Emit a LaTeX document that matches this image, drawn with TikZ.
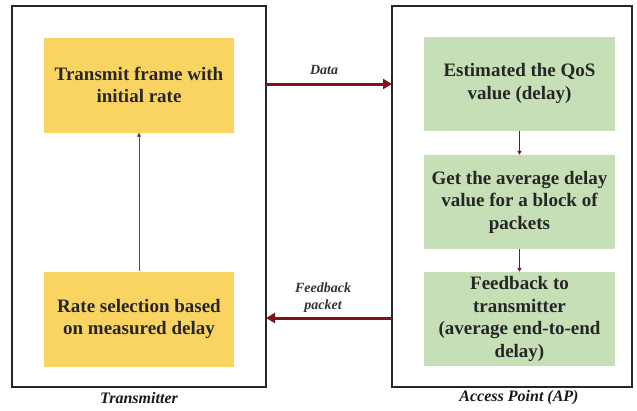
\documentclass[tikz,border=0pt]{standalone}
\usepackage{fontspec}
\setmainfont{Liberation Serif}
\usetikzlibrary{arrows.meta}
\definecolor{boxyellow}{HTML}{F9D463}
\definecolor{boxgreen}{HTML}{C6DFB6}
\definecolor{linkred}{HTML}{7E1416}
\begin{document}
\begin{tikzpicture}[x=1pt,y=-1pt,
  frame/.style={draw=black!85, line width=1.6pt},
  boxtext/.style={align=center, inner sep=1pt, font=\fontsize{19}{22.5}\selectfont\bfseries, text=black!85},
  yellowbox/.style={boxtext, fill=boxyellow, draw=none, minimum width=190pt, minimum height=95pt},
  greenbox/.style={boxtext, fill=boxgreen, draw=none, minimum width=191pt, minimum height=94pt},
  biglink/.style={draw=linkred, line width=3pt, -{Triangle[length=9pt,width=10pt]}},
  smalllink/.style={draw=linkred, line width=1pt, -{Triangle[length=4pt,width=4pt]}},
  uplink/.style={draw=black!70, line width=0.9pt, -{Triangle[length=4pt,width=4pt]}},
  linklabel/.style={font=\fontsize{14}{16}\selectfont\itshape\bfseries, text=black!80, align=center},
  caption/.style={font=\fontsize{16}{18}\selectfont\itshape\bfseries, text=black!90}
]
\useasboundingbox (0,0) rectangle (637,410);
\fill[white] (0,0) rectangle (637,410);

% outer frames
\draw[frame] (12,6) rectangle (266,387);
\draw[frame] (392,6) rectangle (632,387);
\coordinate (txR1) at (266,84);
\coordinate (apL1) at (392,84);
\coordinate (txR2) at (266,318);
\coordinate (apL2) at (392,318);

% transmitter side
\node[yellowbox] (tx1) at (139,85) {Transmit frame with\\initial rate};
\node[yellowbox] (tx2) at (139,319) {Rate selection based\\on measured delay};
\draw[uplink] (tx2.north) -- (tx1.south);

% access point side
\node[greenbox] (ap1) at (519.5,83.5) {Estimated the QoS\\value (delay)};
\node[greenbox] (ap2) at (519.5,202) {Get the average delay\\value for a block of\\packets};
\node[greenbox] (ap3) at (519.5,319) {Feedback to\\transmitter\\(average end-to-end\\delay)};
\draw[smalllink] (ap1.south) -- (ap2.north);
\draw[smalllink] (ap2.south) -- (ap3.north);

% links between the two sides
\draw[biglink] (txR1) -- (apL1);
\draw[biglink] (apL2) -- (txR2);
\node[linklabel] (datalbl) at (324,70) {Data};
\node[linklabel, font=\fontsize{14}{17}\selectfont\itshape\bfseries] (fblbl) at (323,298) {Feedback\\packet};

% captions
\node[caption] (txcap) at (139,398) {Transmitter};
\node[caption] (apcap) at (519,398) {Access Point (AP)};
\end{tikzpicture}
\end{document}
